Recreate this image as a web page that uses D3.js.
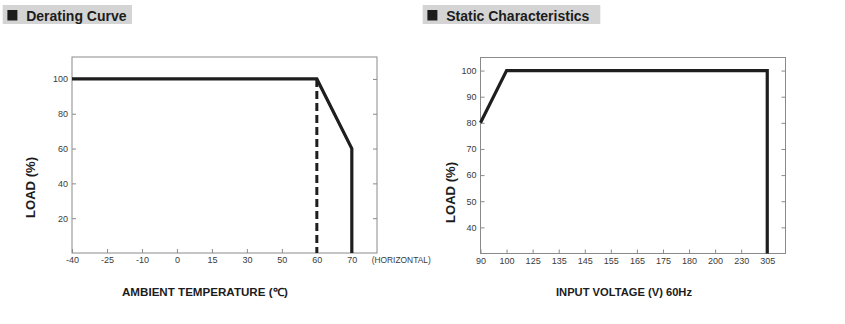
<!DOCTYPE html>
<html>
<head>
<meta charset="utf-8">
<script src="https://cdn.jsdelivr.net/npm/d3@7"></script>
<style>
  html, body { margin: 0; padding: 0; background: #fff; }
  svg { display: block; }
  text { font-family: "Liberation Sans", Arial, sans-serif; }
</style>
</head>
<body>
<svg id="chart" width="845" height="324"></svg>
<script>
// ---- Data: Derating Curve ----
const tempTicks = [-40, -25, -10, 0, 15, 30, 50, 60, 70];
const loadTicksLeft = [20, 40, 60, 80, 100];
const deratingTemp = [-40, 60, 70, 70];
const deratingLoad = [100, 100, 60, 0];
const dashedTemp = [60, 60];
const dashedLoad = [100, 0];

// ---- Data: Static Characteristics ----
const voltTicks = [90, 100, 125, 135, 145, 155, 165, 175, 180, 200, 230, 305];
const loadTicksRight = [40, 50, 60, 70, 80, 90, 100];
const staticVolt = [90, 100, 305, 305];
const staticLoad = [80, 100, 100, 30];

const svg = d3.select("#chart");
const lineColor = "#1e1e1e";
const axisColor = "#8a8a8a";

function titleBox(x0, x1, label) {
  const g = svg.append("g");
  g.append("rect").attr("x", x0).attr("y", 5).attr("width", x1 - x0).attr("height", 19).attr("fill", "#d4d4d4");
  g.append("rect").attr("x", x0 + 4.7).attr("y", 10).attr("width", 10).attr("height", 10.5).attr("fill", "#1c1c1c");
  g.append("text").attr("x", x0 + 23.5).attr("y", 20.7).attr("font-size", 14).attr("font-weight", "bold")
    .attr("fill", "#1c1c1c").text(label);
}

function panel(opts) {
  const { left, right, top, bottom, xTicks, xMaxIndex, yDomain, yTicks } = opts;
  const g = svg.append("g");
  const idx = d3.scaleLinear().domain([0, xMaxIndex]).range([left, right]);
  const x = d3.scaleLinear().domain(xTicks).range(xTicks.map((d, i) => idx(i)));
  const y = d3.scaleLinear().domain(yDomain).range([bottom, top]);

  g.append("rect").attr("x", left).attr("y", top).attr("width", right - left).attr("height", bottom - top)
    .attr("fill", "none").attr("stroke", axisColor).attr("stroke-width", 1);

  const styleAxis = sel => {
    sel.select(".domain").remove();
    sel.selectAll("line").attr("stroke", axisColor);
    sel.selectAll("text").attr("fill", "#3a3a3a").attr("font-size", 9)
      .attr("font-family", "'Liberation Sans', Arial, sans-serif");
  };

  g.append("g").attr("transform", `translate(0,${bottom})`)
    .call(d3.axisBottom(x).tickValues(xTicks).tickFormat(d => d).tickSizeInner(-4).tickSizeOuter(0).tickPadding(4))
    .call(styleAxis);
  g.append("g").attr("transform", `translate(${left},0)`)
    .call(d3.axisLeft(y).tickValues(yTicks).tickSizeInner(-4).tickSizeOuter(0).tickPadding(4))
    .call(styleAxis);
  g.append("g").attr("transform", `translate(${right},0)`)
    .call(d3.axisRight(y).tickValues(yTicks).tickFormat("").tickSizeInner(-4).tickSizeOuter(0))
    .call(styleAxis);

  return { g, x, y };
}

function boldLabel(transform, text, size, len) {
  svg.append("text").attr("transform", transform).attr("text-anchor", "middle")
    .attr("font-size", size).attr("font-weight", "bold").attr("fill", "#1c1c1c")
    .attr("textLength", len).attr("lengthAdjust", "spacingAndGlyphs").text(text);
}

// ---- Left panel ----
titleBox(2.7, 132, "Derating Curve");
const L = panel({ left: 72, right: 377, top: 57, bottom: 253, xTicks: tempTicks, xMaxIndex: 8.72,
  yDomain: [0, 112.6], yTicks: loadTicksLeft });
const lineL = d3.line().x(d => L.x(d[0])).y(d => L.y(d[1]));
L.g.append("path").datum(d3.zip(dashedTemp, dashedLoad)).attr("d", lineL)
  .attr("fill", "none").attr("stroke", lineColor).attr("stroke-width", 3).attr("stroke-dasharray", "8,4");
L.g.append("path").datum(d3.zip(deratingTemp, deratingLoad)).attr("d", lineL)
  .attr("fill", "none").attr("stroke", lineColor).attr("stroke-width", 3.2).attr("stroke-linejoin", "miter");
L.g.append("text").attr("x", 371.7).attr("y", 263).attr("font-size", 9).attr("fill", "#3a3a3a")
  .attr("textLength", 59).attr("lengthAdjust", "spacingAndGlyphs").text("(HORIZONTAL)");
boldLabel("translate(34.5,187.5) rotate(-90)", "LOAD (%)", 12, 61);
boldLabel("translate(205,296)", "AMBIENT TEMPERATURE (℃)", 11, 166);

// ---- Right panel ----
titleBox(422.7, 600.3, "Static Characteristics");
const R = panel({ left: 480.5, right: 785.5, top: 57.5, bottom: 253.5, xTicks: voltTicks, xMaxIndex: 11.7,
  yDomain: [30, 105], yTicks: loadTicksRight });
const lineR = d3.line().x(d => R.x(d[0])).y(d => R.y(d[1]));
R.g.append("path").datum(d3.zip(staticVolt, staticLoad)).attr("d", lineR)
  .attr("fill", "none").attr("stroke", lineColor).attr("stroke-width", 3.2).attr("stroke-linejoin", "miter");
boldLabel("translate(454.5,192.5) rotate(-90)", "LOAD (%)", 12, 61);
boldLabel("translate(624,296)", "INPUT VOLTAGE (V) 60Hz", 11, 136);
</script>
</body>
</html>
